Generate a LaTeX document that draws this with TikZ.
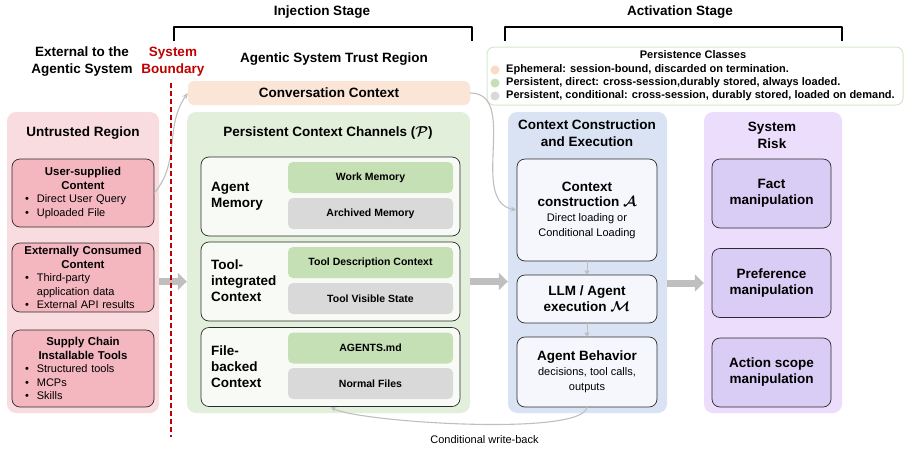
\documentclass[tikz,border=0pt]{standalone}
\usepackage{fontspec}
\setmainfont{Liberation Sans}
\usepackage{amsmath,bm}
\usetikzlibrary{arrows.meta}
\definecolor{untrustbg}{HTML}{F9DCE0}
\definecolor{srcpink}{HTML}{F4B6BF}
\definecolor{trustbg}{HTML}{E2EFDA}
\definecolor{groupbg}{HTML}{F8FBF5}
\definecolor{greensub}{HTML}{C5E0B4}
\definecolor{graysub}{HTML}{D9D9D9}
\definecolor{convbg}{HTML}{FBE5D6}
\definecolor{peachdot}{HTML}{F9DBC8}
\definecolor{execbg}{HTML}{DAE3F3}
\definecolor{execin}{HTML}{F5F7FC}
\definecolor{riskbg}{HTML}{EDDDFD}
\definecolor{riskin}{HTML}{D9CCF5}
\definecolor{legborder}{HTML}{D5E8CB}
\definecolor{bndred}{HTML}{C00000}
\definecolor{arrgray}{HTML}{BFBFBF}
\definecolor{edgegray}{HTML}{2B2B2B}
\newcommand{\bigbf}{\fontsize{13.5}{16}\selectfont\bfseries}
\newcommand{\srctitle}[1]{{\fontsize{11.4}{13.5}\selectfont\bfseries #1}}
\newcommand{\bitem}[1]{\makebox[116pt][l]{\textbullet\hspace{8pt}#1}}
\newcommand{\bmore}[1]{\makebox[116pt][l]{\hspace{11.9pt}#1}}

\begin{document}
\begin{tikzpicture}[x=1pt, y=1pt, line join=round, line cap=round,
		region/.style={rounded corners=9pt, inner sep=0pt, minimum height=301pt},
		heading/.style={align=center, inner sep=0pt, font=\fontsize{13.5}{17}\selectfont\bfseries},
		srcbox/.style={draw=edgegray, line width=0.7pt, fill=srcpink, rounded corners=8pt, minimum width=142pt, text width=130pt, align=center, inner sep=0pt, font=\fontsize{11}{13.5}\selectfont},
		groupbox/.style={draw=edgegray, line width=0.7pt, fill=groupbg, rounded corners=8pt, minimum width=259pt, minimum height=79pt},
		grouplabel/.style={anchor=west, align=left, inner sep=0pt, font=\bigbf},
		subbox/.style={rounded corners=5pt, minimum width=165pt, minimum height=31pt, font=\fontsize{10.5}{12}\selectfont\bfseries},
		execbox/.style={draw=edgegray, line width=0.7pt, fill=execin, rounded corners=8pt, minimum width=140pt, align=center, font=\fontsize{11}{15}\selectfont},
		riskbox/.style={draw=edgegray, line width=0.7pt, fill=riskin, rounded corners=8pt, minimum width=119pt, minimum height=69pt, align=center, font=\bigbf},
		legitem/.style={anchor=west, inner sep=0pt, font=\fontsize{11}{12}\selectfont\bfseries},
		bigarrow/.style={draw=arrgray, line width=7pt, line cap=butt, -{Triangle[length=9pt,width=17pt]}},
		smallarrow/.style={draw=arrgray, line width=0.8pt, -{Triangle[length=4pt,width=5pt]}},
		flowline/.style={draw=arrgray, line width=1.1pt, -{Stealth[length=6pt,width=5pt]}}]
	\useasboundingbox (0,0) rectangle (911,-448);
	% stage brackets
	\node[heading] (injlbl) at (322,-12) {Injection Stage};
	\node[heading] (actlbl) at (680,-12) {Activation Stage};
	\draw[line width=1.2pt, line cap=butt] (174,-41) |- (472,-27) -- (472,-41);
	\draw[line width=1.2pt, line cap=butt] (505,-41) |- (842,-27) -- (842,-41);
	\node[heading] (extlbl) at (82,-62) {External to the\\Agentic System};
	\node[heading, text=bndred] (bndlbl) at (173,-62) {System\\Boundary};
	\node[heading] (trustlbl) at (334,-59) {Agentic System Trust Region};
	% regions
	\node[region, fill=untrustbg, minimum width=152pt] (untrusted) at (83,-262.5) {};
	\node[region, fill=trustbg, minimum width=283pt] (pcc) at (328.5,-262.5) {};
	\node[region, fill=execbg, minimum width=159pt] (exec) at (587.5,-262.5) {};
	\node[region, fill=riskbg, minimum width=138pt] (risk) at (773,-262.5) {};
	\node[region, fill=convbg, minimum width=282pt, minimum height=24pt, rounded corners=6pt, font=\bigbf] (conv) at (329,-93) {Conversation Context};
	\node[heading] (untrustlbl) at (83,-133) {Untrusted Region};
	\node[heading] (pcclbl) at (328,-133) {Persistent Context Channels ($\bm{\mathcal{P}}$)};
	\node[heading] (execlbl) at (587,-133.5) {Context Construction\\and Execution};
	\node[heading] (risklbl) at (772,-135) {System\\Risk};
	% legend
	\node[draw=legborder, line width=1pt, fill=white, rounded corners=7pt, minimum width=416pt, minimum height=58pt] (legend) at (695,-76) {};
	\node[legitem, anchor=center] (legtitle) at (693,-55) {Persistence Classes};
	\foreach \col/\txt/\y [count=\n] in {peachdot/{Ephemeral: session-bound, discarded on termination.}/70, greensub/{Persistent, direct: cross-session,durably stored, always loaded.}/83, graysub/{Persistent, conditional: cross-session, durably stored, loaded on demand.}/96}{
		\node[circle, fill=\col, minimum size=9pt, inner sep=0pt] (dot\n) at (495,-\y) {};
		\node[legitem] (leg\n) at (506,-\y) {\txt};}
	% untrusted sources
	\node[srcbox, minimum height=68pt] (user) at (83,-193) {\srctitle{User-supplied}\\\srctitle{Content}\\\bitem{Direct User Query}\\\bitem{Uploaded File}};
	\node[srcbox, minimum height=69pt] (extc) at (83,-277.5) {\srctitle{Externally Consumed}\\\srctitle{Content}\\\bitem{Third-party}\\\bmore{application data}\\\bitem{External API results}};
	\node[srcbox, minimum height=77pt] (supply) at (83,-368.5) {\srctitle{Supply Chain}\\\srctitle{Installable Tools}\\\bitem{Structured tools}\\\bitem{MCPs}\\\bitem{Skills}};
	% persistent channels
	\foreach \g/\y in {mem/196.5, tool/281.5, file/367}{\node[groupbox] (\g) at (330.5,-\y) {};}
	\node[grouplabel] (memlbl) at (211,-196) {Agent\\Memory};
	\node[grouplabel] (toollbl) at (211,-281) {Tool-\\integrated\\Context};
	\node[grouplabel] (filelbl) at (211,-367) {File-\\backed\\Context};
	\foreach \nm/\col/\y/\txt in {work/greensub/177.5/Work Memory, arch/graysub/213.5/Archived Memory, tdesc/greensub/262.5/Tool Description Context, tvis/graysub/298.5/Tool Visible State, agmd/greensub/348/AGENTS.md, nfiles/graysub/383.5/Normal Files}{
		\node[subbox, fill=\col] (\nm) at (370.5,-\y) {\txt};}
	% execution
	\node[execbox, minimum height=102pt] (ctxc) at (587,-210) {{\bigbf Context}\\{\bigbf construction $\bm{\mathcal{A}}$}\\Direct loading or\\Conditional Loading};
	\node[execbox, minimum height=48pt, font=\bigbf] (llm) at (587,-299) {LLM / Agent\\execution $\bm{\mathcal{M}}$};
	\node[execbox, minimum height=70pt] (behav) at (587,-372) {{\bigbf Agent Behavior}\\decisions, tool calls,\\outputs};
	% risks
	\node[riskbox] (fact) at (771.5,-193.5) {Fact\\manipulation};
	\node[riskbox] (pref) at (771.5,-283) {Preference\\manipulation};
	\node[riskbox] (scope) at (771.5,-372.5) {Action scope\\manipulation};
	% connectors
	\draw[bigarrow] (untrusted.east |- tool) -- (pcc.west |- tool);
	\draw[bigarrow] (pcc.east |- tool) -- (exec.west |- tool);
	\draw[bigarrow] (exec.east |- pref) -- (risk.west |- pref);
	\draw[smallarrow] (ctxc) -- (llm);
	\draw[smallarrow] (llm) -- (behav);
	\draw[flowline] (user.east) to[out=50, in=-125] (conv.west);
	\draw[flowline] (conv.east) to[out=0, in=170] (ctxc.west);
	\draw[flowline] (behav.south) to[out=-100, in=-30, looseness=0.3] node[pos=0.45, below=7pt, text=black, font=\fontsize{11}{13}\selectfont] (wblbl) {Conditional write-back} (file.south);
	% system boundary
	\coordinate (bndtop) at (171,-83);
	\coordinate (bndbot) at (171,-437);
	\draw[bndred, line width=1.5pt, line cap=butt, dash pattern=on 5pt off 3pt] (bndtop) -- (bndbot);
\end{tikzpicture}
\end{document}
